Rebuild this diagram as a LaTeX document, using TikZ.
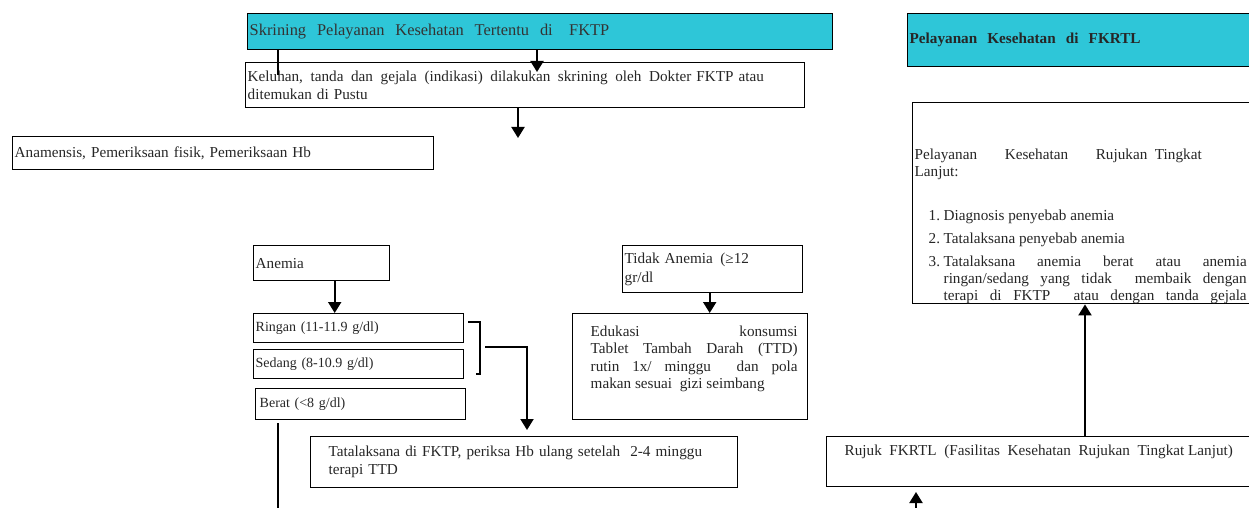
\documentclass[tikz,border=0pt]{standalone}
\usepackage{fontspec}
\setmainfont{Liberation Serif}
\usetikzlibrary{arrows.meta}

\definecolor{headcyan}{RGB}{46,198,216}

\begin{document}
\begin{tikzpicture}[x=0.5pt, y=-0.5pt, >={Triangle[width=6.5pt,length=5.5pt]},
    box/.style={draw, line width=0.7pt, anchor=north west, inner xsep=1pt, inner ysep=0pt,
                align=left, text=black!85, font=\fontsize{7.6}{9}\selectfont},
    head/.style={box, fill=headcyan},
    small/.style={font=\fontsize{7}{9}\selectfont},
    conn/.style={line width=1pt}]

    \useasboundingbox (0,0) rectangle (1249,508);
    \clip (0,0) rectangle (1249,508);

    % FKTP column
    \node[head, text width=290.5pt, minimum height=18pt, text=black!80,
          font=\fontsize{8.2}{9}\selectfont] (skrining) at (247,13)
        {\raisebox{-2pt}{Skrining~ Pelayanan~ Kesehatan~ Tertentu~ di~ ~FKTP}};
    \node[box, text width=277.5pt, minimum height=22.5pt] (keluhan) at (245,62)
        {Keluhan,\, tanda\, dan\, gejala\, (indikasi)\, dilakukan\, skrining\, oleh\, Dokter FKTP atau\\
         ditemukan di Pustu};
    \node[box, text width=208.5pt, minimum height=16.5pt] (anamnesis) at (12,136)
        {Anamensis, Pemeriksaan fisik, Pemeriksaan Hb};

    % Anemia branch
    \node[box, text width=66pt, minimum height=17.5pt] (anemia) at (253,245) {Anemia};
    \node[box, small, text width=103pt, minimum height=14.5pt] (ringan) at (253,313)
        {Ringan (11-11.9 g/dl)};
    \node[box, small, text width=103pt, minimum height=14.5pt] (sedang) at (253,349)
        {Sedang (8-10.9 g/dl)};
    \node[box, small, text width=103pt, minimum height=15.5pt] (berat) at (255,388)
        {\hspace*{1pt}Berat (<8 g/dl)};
    \node[box, text width=211.5pt, minimum height=25.5pt] (tatalaksana) at (310,436)
        {\hspace*{8pt}Tatalaksana di FKTP, periksa Hb ulang setelah~ 2-4 minggu\\
         \hspace*{8pt}terapi TTD};

    % Tidak anemia branch
    \node[box, text width=88pt, minimum height=23.5pt, font=\fontsize{7.6}{9.5}\selectfont] (tidak) at (622,245)
        {Tidak Anemia\, (≥12\\gr/dl};
    \node[box] (edukasi) at (572,313)
        {\begin{minipage}[c][53pt][t]{115.5pt}\fontsize{7.6}{8.75}\selectfont
         \vspace*{6pt}
         \hspace*{8pt}\makebox[103.5pt][s]{Edukasi konsumsi}\\
         \hspace*{8pt}\makebox[103.5pt][s]{Tablet~ Tambah~ Darah~ (TTD)}\\
         \hspace*{8pt}\makebox[103.5pt][s]{rutin 1x/ minggu~ dan pola}\\
         \hspace*{8pt}makan sesuai~ gizi seimbang
         \end{minipage}};

    % FKRTL column
    \node[head, text width=175.5pt, minimum height=26.5pt, font=\bfseries\fontsize{7.6}{9}\selectfont] (fkrtl) at (907,13)
        {Pelayanan~ Kesehatan~ di~ FKRTL};
    \node[box] (lanjut) at (912,102)
        {\begin{minipage}[c][100.5pt][t]{173pt}\fontsize{7.6}{8.5}\selectfont
         \vspace*{23pt}
         \makebox[143.5pt][s]{Pelayanan\hfill Kesehatan\hfill Rujukan~ Tingkat}\\
         Lanjut:\\[13.5pt]
         \hspace*{7pt}\makebox[7.5pt][l]{1.}Diagnosis penyebab anemia\\[3pt]
         \hspace*{7pt}\makebox[7.5pt][l]{2.}Tatalaksana penyebab anemia\\[3pt]
         \hspace*{7pt}\makebox[7.5pt][l]{3.}\makebox[151.5pt][s]{Tatalaksana anemia berat atau anemia}\\
         \hspace*{14.5pt}\makebox[151.5pt][s]{ringan/sedang yang tidak~ membaik dengan}\\
         \hspace*{14.5pt}\makebox[151.5pt][s]{terapi di FKTP~ atau dengan tanda gejala}
         \end{minipage}};
    \node[box] (rujuk) at (826,436)
        {\begin{minipage}[c][25pt][t]{216pt}
         \vspace*{4pt}
         \hspace*{8pt}Rujuk~ FKRTL~ (Fasilitas~ Kesehatan~ Rujukan~ Tingkat Lanjut)
         \end{minipage}};

    % Connectors
    \coordinate (mark) at (278,75);
    \draw[line width=0.8pt] (skrining.south -| mark) -- (mark);
    \coordinate (tip1) at (537,72);
    \draw[conn,->] (skrining.south -| tip1) -- (tip1);
    \coordinate (tip2) at (518,138);
    \draw[conn,->] (keluhan.south -| tip2) -- (tip2);
    \coordinate (a1) at ([xshift=6.5pt]anemia.south);
    \draw[conn,->] (a1) -- (a1 |- ringan.north);
    \coordinate (a2) at ([xshift=-1.5pt]tidak.south);
    \draw[conn,->] (a2) -- (a2 |- edukasi.north);

    % Bracket for ringan and sedang
    \draw[line width=0.7pt] (468,322) -- (480,322) -- (480,374) -- (476,374);
    \coordinate (brk) at (485,347);
    \coordinate (tip3) at (527,430);
    \draw[conn,->] (brk) -| (tip3);

    % Berat down the page
    \coordinate (down) at (278,512);
    \draw[conn] ([yshift=-1.5pt]berat.south -| down) -- (down);

    % Referral
    \coordinate (up) at (1085,0);
    \draw[conn,->] (rujuk.north -| up) -- (lanjut.south -| up);
    \coordinate (low) at (916,512);
    \coordinate (tip4) at (916,492);
    \draw[conn,->] (low) -- (tip4);

\end{tikzpicture}
\end{document}
